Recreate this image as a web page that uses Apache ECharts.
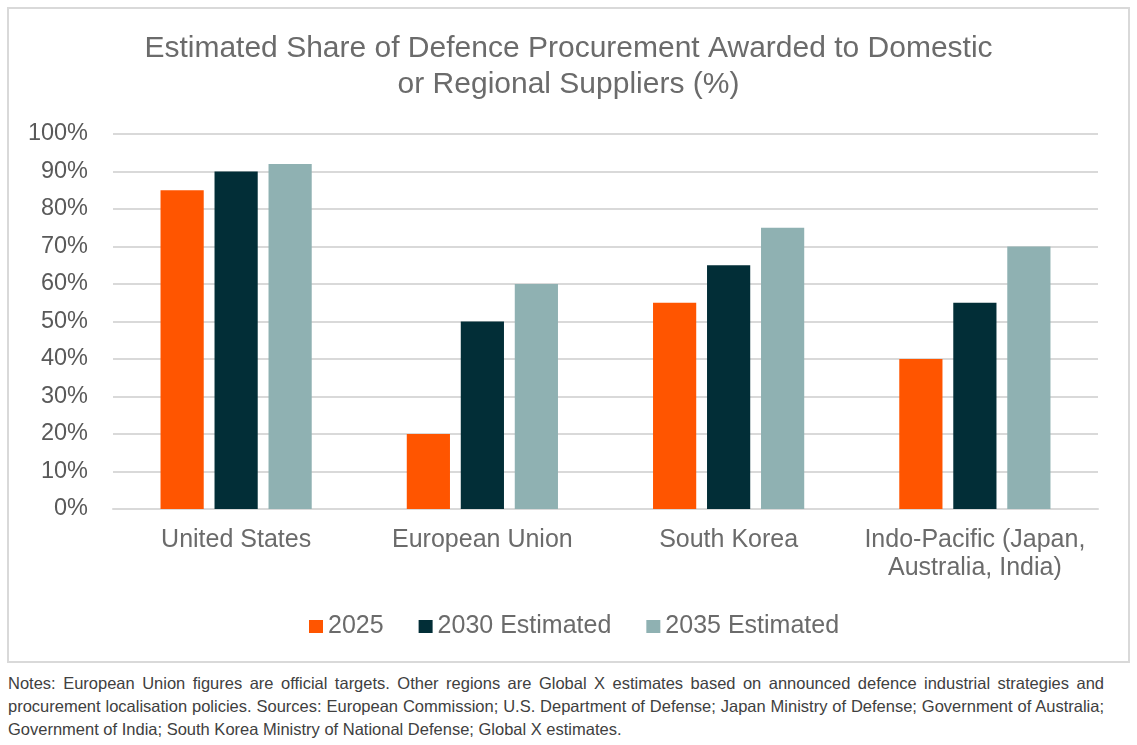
<!DOCTYPE html>
<html>
<head>
<meta charset="utf-8">
<script src="https://cdn.jsdelivr.net/npm/echarts@6/dist/echarts.min.js"></script>
<style>
  html, body { margin: 0; padding: 0; background: #fff; }
  #frame {
    position: absolute; left: 7px; top: 7px; width: 1119px; height: 652px;
    border: 2px solid #d9d9d9;
  }
  #chart { position: absolute; left: 0; top: 0; width: 1137px; height: 665px; }
  #notes {
    position: absolute; left: 8px; top: 672px; width: 1096px;
    font-family: "Liberation Sans", Arial, sans-serif;
    font-size: 16.5px; line-height: 23px; color: #404040;
  }
  #notes div { text-align: justify; text-align-last: justify; white-space: nowrap; }
  #notes div.last { text-align-last: left; }
</style>
</head>
<body>
<div id="frame"></div>
<div id="chart"></div>
<div id="notes">
  <div>Notes: European Union figures are official targets. Other regions are Global X estimates based on announced defence industrial strategies and</div>
  <div>procurement localisation policies. Sources: European Commission; U.S. Department of Defense; Japan Ministry of Defense; Government of Australia;</div>
  <div class="last">Government of India; South Korea Ministry of National Defense; Global X estimates.</div>
</div>
<script>
// 地区与各年份占比 (%)
const regions = ['United States', 'European Union', 'South Korea', 'Indo-Pacific (Japan,\nAustralia, India)']
const share2025 = [85, 20, 55, 40]
const share2030 = [90, 50, 65, 55]
const share2035 = [92, 60, 75, 70]
const seriesNames = ['2025', '2030 Estimated', '2035 Estimated']
const colors = ['#ff5500', '#022e37', '#8fb1b2']

const chart = echarts.init(document.getElementById('chart'))
const font = '"Liberation Sans", Arial, sans-serif'

chart.setOption({
  animation: false,
  color: colors,
  textStyle: { fontFamily: font },
  title: {
    text: 'Estimated Share of Defence Procurement Awarded to Domestic\nor Regional Suppliers (%)',
    left: 'center',
    top: 26,
    textStyle: { fontSize: 30, fontWeight: 'normal', color: '#6b6b6b', lineHeight: 36, fontFamily: font }
  },
  legend: {
    top: 609,
    left: 304,
    itemWidth: 14,
    itemHeight: 13,
    itemGap: 35,
    icon: 'rect',
    textStyle: { fontSize: 25, color: '#6b6b6b' },
    data: seriesNames
  },
  grid: { left: 113, right: 39, top: 134, bottom: 156 },
  xAxis: {
    type: 'category',
    data: regions,
    axisLine: { lineStyle: { color: '#d9d9d9', width: 2 } },
    axisTick: { show: false },
    axisLabel: { fontSize: 25, color: '#6b6b6b', margin: 17, lineHeight: 28, interval: 0 }
  },
  yAxis: {
    type: 'value',
    min: 0,
    max: 100,
    interval: 10,
    axisLine: { show: false },
    axisTick: { show: false },
    splitLine: { lineStyle: { color: '#d9d9d9', width: 2 } },
    axisLabel: { fontSize: 23.5, color: '#595959', margin: 25, formatter: '{value}%' }
  },
  series: [
    { name: seriesNames[0], type: 'bar', data: share2025, barGap: '25%', barCategoryGap: '38.6%' },
    { name: seriesNames[1], type: 'bar', data: share2030, barGap: '25%', barCategoryGap: '38.6%' },
    { name: seriesNames[2], type: 'bar', data: share2035, barGap: '25%', barCategoryGap: '38.6%' }
  ]
})
</script>
</body>
</html>
